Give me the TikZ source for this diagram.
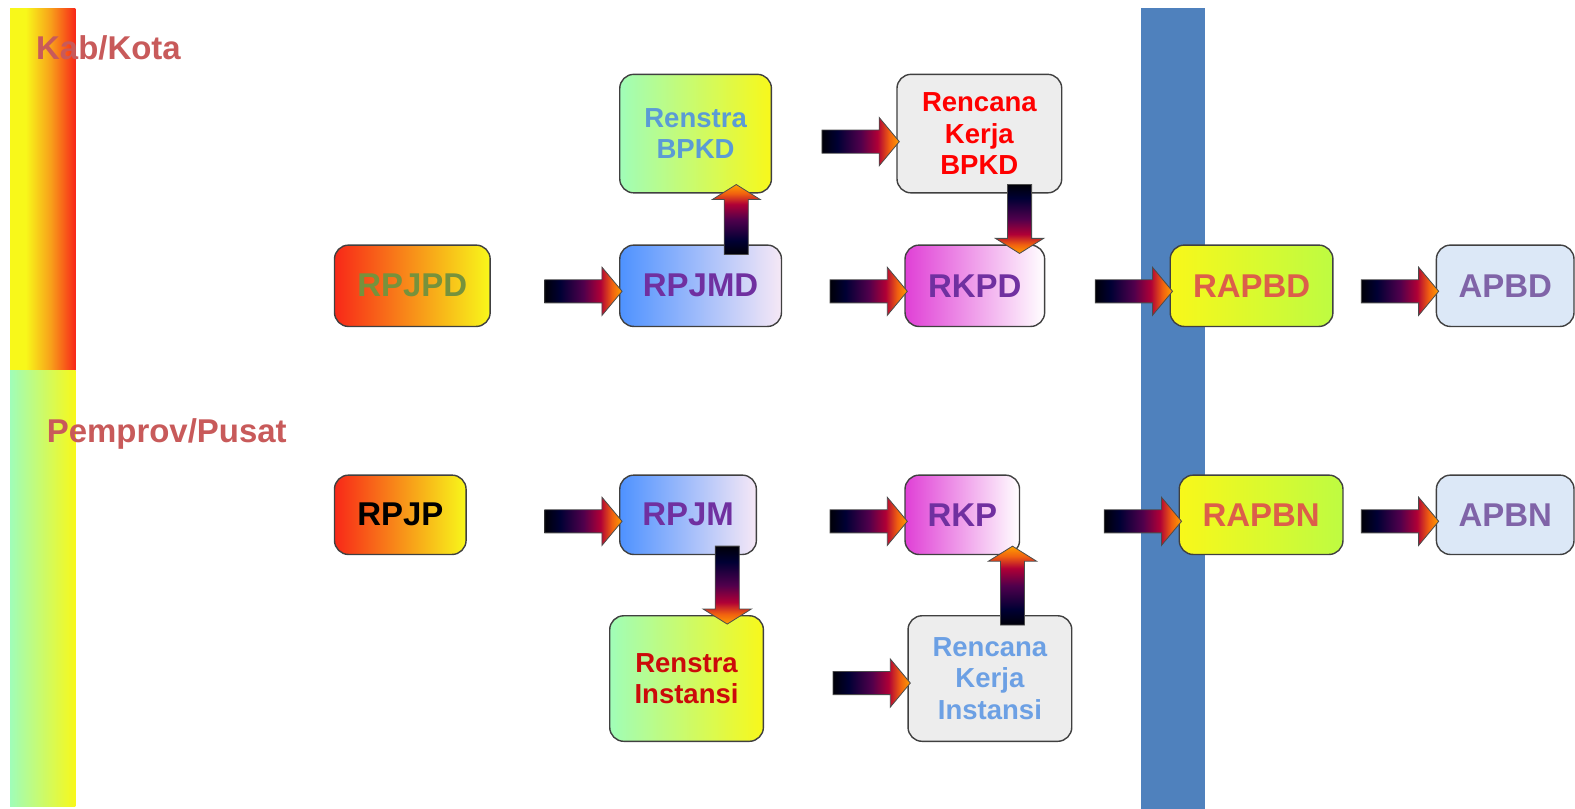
\documentclass[tikz,border=0pt]{standalone}
\usepackage{fontspec}
\setmainfont{Liberation Sans}
\usetikzlibrary{calc}
\definecolor{arTail}{HTML}{000008}
\definecolor{arNavy}{HTML}{000034}
\definecolor{arMid}{HTML}{50004C}
\definecolor{arRed}{HTML}{B00036}
\definecolor{arOr}{HTML}{F06010}
\definecolor{arTip}{HTML}{FFA000}
\definecolor{kY}{HTML}{F8F81A}
\definecolor{kO}{HTML}{F8A01A}
\definecolor{kR}{HTML}{F82818}
\definecolor{mint}{HTML}{A0FDB8}
\definecolor{barblue}{HTML}{4F81BD}
\definecolor{lblred}{HTML}{C85A5A}
\definecolor{olive}{HTML}{76923C}
\definecolor{purp}{HTML}{7030A0}
\definecolor{lpurp}{HTML}{8064A8}
\definecolor{lblue}{HTML}{5B9BD5}
\definecolor{lblueb}{HTML}{6CA0E4}
\definecolor{coral}{HTML}{DC5E4A}
\definecolor{dred}{HTML}{CC0A0A}
\definecolor{bL}{HTML}{4E92FF}
\definecolor{bM}{HTML}{90C8FF}
\definecolor{bR}{HTML}{F6E8F6}
\definecolor{mL}{HTML}{E040D6}
\definecolor{mM}{HTML}{F0A2EA}
\definecolor{pb}{HTML}{DCE8F7}
\definecolor{gr}{HTML}{EDEDED}
\pgfdeclarehorizontalshading{arrowsh}{100bp}{color(0bp)=(arTail); color(25bp)=(arTail); color(35bp)=(arNavy); color(50bp)=(arMid); color(61bp)=(arRed); color(68.5bp)=(arOr); color(75bp)=(arTip); color(100bp)=(arTip)}
\pgfdeclarehorizontalshading{kabsh}{100bp}{color(0bp)=(kY); color(25bp)=(kY); color(37bp)=(kY); color(56bp)=(kO); color(75bp)=(kR); color(100bp)=(kR)}
\newcommand\harr[3]{%
  \shadedraw[blkarrow, shading angle=0] let \p2=(#2.west), \p3=(0,#3) in
  (\x2-37pt,\y3+5.75pt) -- (\x2-8.5pt,\y3+5.75pt) -- (\x2-8.5pt,\y3+12pt) -- (\x2+1.5pt,\y3)
  -- (\x2-8.5pt,\y3-12pt) -- (\x2-8.5pt,\y3-5.75pt) -- (\x2-37pt,\y3-5.75pt) -- cycle;}
\newcommand\uarr[3]{%
  \shadedraw[blkarrow, shading angle=90] let \p1=(#1.north), \p2=(#2.south), \p3=(#3,0) in
  (\x3-6pt,\y1-5pt) -- (\x3-6pt,\y2-3pt) -- (\x3-12pt,\y2-3pt) -- (\x3,\y2+4.5pt)
  -- (\x3+12pt,\y2-3pt) -- (\x3+6pt,\y2-3pt) -- (\x3+6pt,\y1-5pt) -- cycle;}
\newcommand\darr[3]{%
  \shadedraw[blkarrow, shading angle=-90] let \p1=(#1.south), \p2=(#2.north), \p3=(#3,0) in
  (\x3-6pt,\y1+4.5pt) -- (\x3-6pt,\y2+3pt) -- (\x3-12pt,\y2+3pt) -- (\x3,\y2-4.5pt)
  -- (\x3+12pt,\y2+3pt) -- (\x3+6pt,\y2+3pt) -- (\x3+6pt,\y1+4.5pt) -- cycle;}
\begin{document}
\begin{tikzpicture}[x=0.5pt,y=-0.5pt,
  blkarrow/.style={shading=arrowsh, draw=black!70, line width=0.4pt},
  box/.style={draw=black!75, line width=0.7pt, rounded corners=7pt, inner sep=0pt, align=center,
    font=\bfseries\fontsize{16.4}{19}\selectfont},
  sm/.style={font=\bfseries\fontsize{13.7}{15.5}\selectfont},
  row/.style={minimum height=40.5pt},
  tall/.style={minimum height=59pt},
  redyel/.style={left color=kR, middle color=kO!80!kY, right color=kY},
  bluegr/.style={left color=bL, middle color=bM, right color=bR},
  magwh/.style={left color=mL, middle color=mM, right color=white},
  mintyel/.style={left color=mint, middle color=kY!60!mint, right color=kY},
  yelgr/.style={left color=kY, right color=kY!70!green!80!white},
  granite/.style={fill=gr},
  paleblue/.style={fill=pb},
  lbl/.style={text=lblred, font=\bfseries\fontsize{16.4}{19}\selectfont}
]
\useasboundingbox (0,0) rectangle (1568,805);
% side bars
\shade[shading=kabsh] (10,8) rectangle (75,369);
\shade[left color=mint, middle color=mint!45!kY, right color=kY] (10,369) rectangle (75,803);
\fill[barblue] (1136,8) rectangle (1200,805);
\node[lbl] (kab) at (108,48) {Kab/Kota};
\node[lbl] (pemprov) at (166,432) {Pemprov/Pusat};
% row 1
\node[box,row,redyel,minimum width=77.5pt,text=olive] (rpjpd) at (410.5,284.5) {RPJPD};
\node[box,row,bluegr,minimum width=80.5pt,text=purp] (rpjmd) at (697.5,284.5) {RPJMD};
\node[box,row,magwh,minimum width=69.5pt,text=purp] (rkpd) at (970.5,284.5) {RKPD};
\node[box,row,yelgr,minimum width=81pt,text=coral] (rapbd) at (1246,284.5) {RAPBD};
\node[box,row,paleblue,minimum width=68.5pt,text=lpurp] (apbd) at (1498.5,284.5) {APBD};
\node[box,tall,sm,mintyel,minimum width=75.5pt,text=lblue] (renbpkd) at (692.5,133) {Renstra\\BPKD};
\node[box,tall,sm,granite,minimum width=82pt,text=red] (rkbpkd) at (975,133) {Rencana\\Kerja\\BPKD};
% row 2
\node[box,row,redyel,minimum width=65.5pt,minimum height=39.5pt,text=black] (rpjp) at (398.5,512.5) {RPJP};
\node[box,row,bluegr,minimum width=68pt,minimum height=39.5pt,text=purp] (rpjm) at (685,512.5) {RPJM};
\node[box,row,magwh,minimum width=57pt,minimum height=39.5pt,text=purp] (rkp) at (958,512.5) {RKP};
\node[box,row,yelgr,minimum width=81.5pt,minimum height=39.5pt,text=coral] (rapbn) at (1255.5,512.5) {RAPBN};
\node[box,row,paleblue,minimum width=68.5pt,minimum height=39.5pt,text=lpurp] (apbn) at (1498.5,512.5) {APBN};
\node[box,sm,mintyel,minimum width=76.5pt,minimum height=62.5pt,text=dred] (reninst) at (683.5,675.5) {Renstra\\Instansi};
\node[box,sm,granite,minimum width=81.5pt,minimum height=62.5pt,text=lblueb] (rkinst) at (985.5,675.5) {Rencana\\Kerja\\Instansi};
% horizontal arrows
\harr{rpjpd}{rpjmd}{290}
\harr{rpjmd}{rkpd}{290}
\harr{rkpd}{rapbd}{290}
\harr{rapbd}{apbd}{290}
\harr{renbpkd}{rkbpkd}{141}
\harr{rpjp}{rpjm}{519}
\harr{rpjm}{rkp}{519}
\harr{rkp}{rapbn}{519}
\harr{rapbn}{apbn}{519}
\harr{reninst}{rkinst}{680}
% vertical arrows
\uarr{rpjmd}{renbpkd}{733}
\darr{rkbpkd}{rkpd}{1015}
\darr{rpjm}{reninst}{724}
\uarr{rkinst}{rkp}{1008}
\end{tikzpicture}
\end{document}
